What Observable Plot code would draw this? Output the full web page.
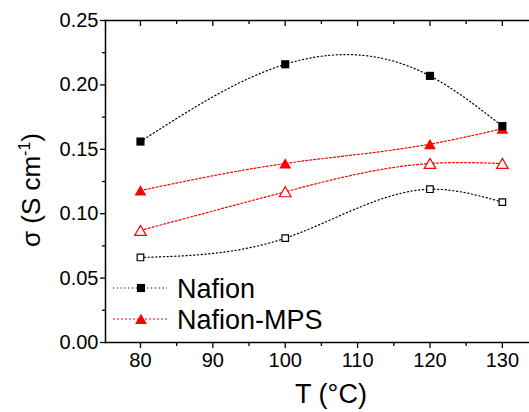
<!DOCTYPE html>
<html>
<head>
<meta charset="utf-8">
<script src="https://cdn.jsdelivr.net/npm/d3@7"></script>
<script src="https://cdn.jsdelivr.net/npm/@observablehq/plot@0.6"></script>
<style>
  html, body { margin: 0; padding: 0; background: #fff; }
  #chart { position: relative; width: 529px; height: 412px; overflow: hidden; }
  svg { font-family: "Liberation Sans", Arial, sans-serif; }
</style>
</head>
<body>
<div id="chart"></div>
<script>
// ---- data ----
const temperatures = [80, 100, 120, 130];
const nafionFilled = [0.156, 0.216, 0.207, 0.168];
const nafionOpen   = [0.066, 0.081, 0.119, 0.109];
const mpsFilled    = [0.118, 0.139, 0.154, 0.166];
const mpsOpen      = [0.087, 0.117, 0.139, 0.139];

const xMajorTicks = [80, 90, 100, 110, 120, 130];
const xMinorTicks = [85, 95, 105, 115, 125];
const yMajorTicks = [0, 0.05, 0.10, 0.15, 0.20, 0.25];
const yMinorTicks = [0.025, 0.075, 0.125, 0.175, 0.225];

const seriesLabels = ["Nafion", "Nafion-MPS"];
const xTitle = "T (°C)";

const toRows = vals => temperatures.map((t, i) => ({t, v: vals[i]}));
const nf = toRows(nafionFilled), no = toRows(nafionOpen);
const mf = toRows(mpsFilled), mo = toRows(mpsOpen);

const black = "#000000", red = "#ff0000";
const blackDash = "1.2,2.6", redDash = "2,2";

// Custom curve: natural cubic spline y(x) (function of x, like Origin's "Spline" connection).
function splineX(context) {
  let xs, ys;
  return {
    areaStart() {}, areaEnd() {},
    lineStart() { xs = []; ys = []; },
    point(x, y) { xs.push(+x); ys.push(+y); },
    lineEnd() {
      const n = xs.length;
      if (!n) return;
      context.moveTo(xs[0], ys[0]);
      if (n === 1) return;
      if (n === 2) { context.lineTo(xs[1], ys[1]); return; }
      const h = [];
      for (let i = 0; i < n - 1; i++) h.push(xs[i + 1] - xs[i]);
      const m = n - 2, a = [], b = [], c = [], r = [];
      for (let k = 0; k < m; k++) {
        const i = k + 1;
        a.push(h[i - 1]); b.push(2 * (h[i - 1] + h[i])); c.push(h[i]);
        r.push(6 * ((ys[i + 1] - ys[i]) / h[i] - (ys[i] - ys[i - 1]) / h[i - 1]));
      }
      for (let k = 1; k < m; k++) {
        const w = a[k] / b[k - 1];
        b[k] -= w * c[k - 1]; r[k] -= w * r[k - 1];
      }
      const Mi = new Array(m);
      Mi[m - 1] = r[m - 1] / b[m - 1];
      for (let k = m - 2; k >= 0; k--) Mi[k] = (r[k] - c[k] * Mi[k + 1]) / b[k];
      const M = [0, ...Mi, 0];
      for (let i = 0; i < n - 1; i++) {
        const hi = h[i], s = (ys[i + 1] - ys[i]) / hi;
        const d0 = s - hi * (2 * M[i] + M[i + 1]) / 6;
        const d1 = s + hi * (M[i] + 2 * M[i + 1]) / 6;
        context.bezierCurveTo(
          xs[i] + hi / 3, ys[i] + d0 * hi / 3,
          xs[i + 1] - hi / 3, ys[i + 1] - d1 * hi / 3,
          xs[i + 1], ys[i + 1]
        );
      }
    }
  };
}

const plot = Plot.plot({
  width: 529,
  height: 412,
  marginLeft: 105,
  marginTop: 20,
  marginBottom: 70,
  marginRight: 0,
  x: {domain: [75.17, 133.75]},
  y: {domain: [0, 0.25]},
  style: {fontFamily: "'Liberation Sans', Arial, sans-serif", color: "black", background: "white"},
  marks: [
    Plot.frame({anchor: "left", stroke: black, strokeWidth: 1.5}),
    Plot.frame({anchor: "top", stroke: black, strokeWidth: 1.5}),
    Plot.frame({anchor: "bottom", stroke: black, strokeWidth: 1.5}),
    Plot.axisY({ticks: yMajorTicks, tickSize: 5, tickPadding: 2, tickFormat: d => d.toFixed(2), fontSize: 20, label: null, stroke: black, strokeWidth: 1.3}),
    Plot.axisY({ticks: yMinorTicks, tickSize: 3, text: null, label: null, stroke: black, strokeWidth: 1.3}),
    Plot.axisX({ticks: xMajorTicks, tickSize: 6, tickPadding: 4, fontSize: 20, label: null, stroke: black, strokeWidth: 1.3}),
    Plot.axisX({ticks: xMinorTicks, tickSize: 4, text: null, label: null, stroke: black, strokeWidth: 1.3}),
    Plot.ruleX(xMajorTicks, {x: d => d, insetBottom: 316, stroke: black, strokeWidth: 1.3}),
    Plot.ruleX(xMinorTicks, {x: d => d, insetBottom: 318, stroke: black, strokeWidth: 1.3}),
    // red series
    Plot.line(mo, {x: "t", y: "v", curve: splineX, stroke: red, strokeWidth: 1.2, strokeDasharray: redDash}),
    Plot.line(mf, {x: "t", y: "v", curve: splineX, stroke: red, strokeWidth: 1.2, strokeDasharray: redDash}),
    Plot.dot(mo, {x: "t", y: "v", symbol: "triangle", r: 4.3, dy: 1.6, fill: "white", stroke: red, strokeWidth: 1.2}),
    Plot.dot(mf, {x: "t", y: "v", symbol: "triangle", r: 4.4, dy: 1.6, fill: red, stroke: "none"}),
    // black series
    Plot.line(no, {x: "t", y: "v", curve: splineX, stroke: black, strokeWidth: 1.2, strokeDasharray: blackDash}),
    Plot.line(nf, {x: "t", y: "v", curve: splineX, stroke: black, strokeWidth: 1.2, strokeDasharray: blackDash}),
    Plot.dot(no, {x: "t", y: "v", symbol: "square", r: 3.7, fill: "white", stroke: black, strokeWidth: 1.2}),
    Plot.dot(nf, {x: "t", y: "v", symbol: "square", r: 4.6, fill: black, stroke: "none"})
  ]
});

document.getElementById("chart").appendChild(plot);

const svg = d3.select(plot);

// y axis title with superscript
const yt = svg.append("text")
  .attr("transform", "translate(40,190) rotate(-90)")
  .attr("text-anchor", "middle")
  .attr("font-size", 26)
  .attr("fill", "black");
yt.append("tspan").text("σ (S cm");
yt.append("tspan").attr("font-size", 16).attr("dy", -10).text("-1");
yt.append("tspan").attr("dy", 10).text(")");

// x axis title
svg.append("text")
  .attr("x", 331).attr("y", 403)
  .attr("text-anchor", "middle")
  .attr("font-size", 27)
  .attr("fill", "black")
  .text(xTitle);

// legend
const legend = svg.append("g").attr("text-anchor", "start");
const legendItems = [
  {label: seriesLabels[0], color: black, dash: blackDash, symbol: d3.symbolSquare, size: Math.PI * 4.6 * 4.6, y: 288, dy: 0},
  {label: seriesLabels[1], color: red, dash: redDash, symbol: d3.symbolTriangle, size: Math.PI * 4.4 * 4.4, y: 319, dy: 1.6}
];
legendItems.forEach(it => {
  legend.append("line")
    .attr("x1", 113).attr("x2", 167).attr("y1", it.y).attr("y2", it.y)
    .attr("stroke", it.color).attr("stroke-width", 1.2).attr("stroke-dasharray", it.dash);
  legend.append("path")
    .attr("d", d3.symbol(it.symbol, it.size)())
    .attr("transform", `translate(141,${it.y + it.dy})`)
    .attr("fill", it.color);
  legend.append("text")
    .attr("x", 177).attr("y", it.y + 9.8)
    .attr("text-anchor", "start")
    .attr("font-size", 27)
    .attr("fill", "black")
    .text(it.label);
});
</script>
</body>
</html>
